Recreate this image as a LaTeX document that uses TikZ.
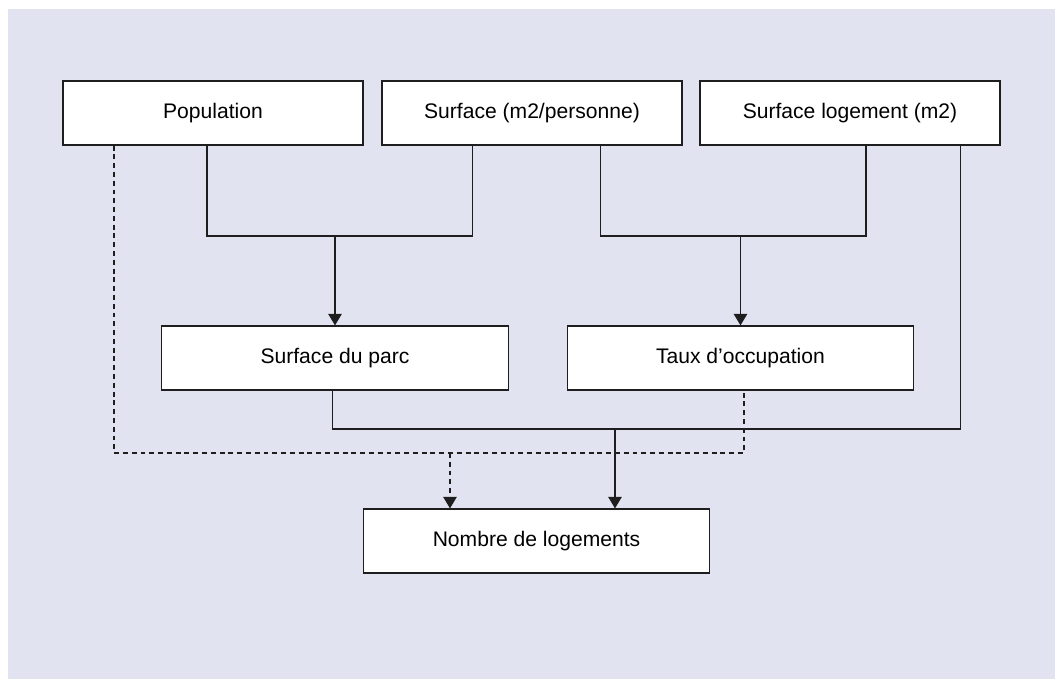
\documentclass[tikz,border=0pt]{standalone}
\usepackage{fontspec}
\setmainfont{Liberation Sans}
\usetikzlibrary{arrows.meta}
\definecolor{fond}{RGB}{225,228,240}
\definecolor{trait}{RGB}{30,30,30}
\begin{document}
\begin{tikzpicture}
      [auto,
       boite/.style={draw=trait, line width=0.7pt, fill=white, minimum height=1.28cm, inner sep=0pt, font=\fontsize{12}{14}\selectfont},
       haut/.style={boite, minimum width=6cm},
       bas/.style={boite, minimum width=6.93cm},
       lien/.style={draw=trait, line width=0.7pt},
       fleche/.style={lien, -{Triangle[length=0.23cm, width=0.27cm]}},
       pointille/.style={dash pattern=on 2.8pt off 2.2pt}]
      \useasboundingbox (0, 0) rectangle (21.1, 13.58);
      \fill[fond] (0.16, 0) rectangle (21.1, 13.4);
      \node[haut](1) at (4.26, 11.32) {Population};
      \node[haut](2) at (10.64, 11.32) {Surface (m2/personne)};
      \node[haut](3) at (17.0, 11.32) {Surface logement (m2)};
      \node[bas](4) at (6.70, 6.42) {Surface du parc};
      \node[bas](5) at (14.81, 6.42) {Taux d’occupation};
      \node[bas](6) at (10.73, 2.76) {Nombre de logements};
      \coordinate(j1) at (6.70, 8.86);
      \coordinate(j2) at (14.81, 8.86);
      \coordinate(j3) at (12.30, 5.00);
      \coordinate(j4) at (9.00, 4.52);
      \draw[lien]([xshift=-0.12cm]1.south) |- (j1) -| ([xshift=-1.19cm]2.south);
      \draw[fleche](j1) -- (j1 |- 4.north);
      \draw[lien]([xshift=1.37cm]2.south) |- (j2) -| ([xshift=0.32cm]3.south);
      \draw[fleche](j2) -- (j2 |- 5.north);
      \draw[lien]([xshift=-0.05cm]4.south) |- (j3) -| ([xshift=2.21cm]3.south);
      \draw[fleche](j3) -- (j3 |- 6.north);
      \draw[lien, pointille]([xshift=-1.98cm]1.south) |- (j4) -| ([xshift=0.07cm]5.south);
      \draw[fleche, pointille](j4) -- (j4 |- 6.north);
  \end{tikzpicture}
\end{document}
